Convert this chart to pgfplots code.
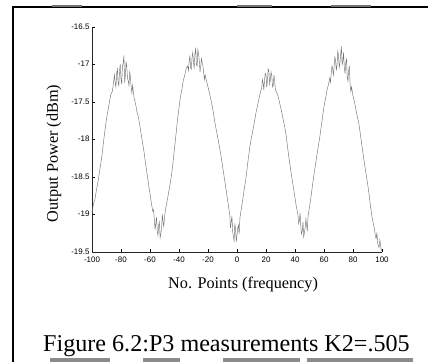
\documentclass[border=0pt]{standalone}
\usepackage{fontspec}
\setmainfont{Liberation Serif}
\newfontfamily\helv{Liberation Sans}
\usepackage{pgfplots}
\pgfplotsset{compat=1.18}
\usepackage{pgfplotstable}

% Measured output power against sweep point index
\pgfplotstableread{
x y
-100 -18.98
-99 -18.86
-98 -18.80
-97 -18.68
-96 -18.58
-95 -18.45
-94 -18.33
-93 -18.19
-92 -18.02
-91 -17.87
-90 -17.72
-89 -17.62
-88 -17.50
-87 -17.40
-86 -17.36
-85 -17.22
-84.5 -17.14
-84 -17.25
-83.5 -17.30
-83 -17.12
-82.5 -17.05
-82 -17.24
-81.5 -17.28
-81 -17.08
-80.5 -17.00
-80 -17.20
-79.5 -17.26
-79 -17.02
-78.5 -16.98
-78 -16.88
-77.5 -17.24
-77 -17.15
-76.5 -16.96
-76 -17.04
-75.5 -17.18
-75 -17.22
-74.5 -17.28
-74 -17.10
-73.5 -17.16
-73 -17.30
-72.5 -17.38
-72 -17.28
-71 -17.44
-70 -17.52
-69 -17.63
-68 -17.70
-67 -17.82
-66 -17.94
-65 -18.06
-64 -18.18
-63 -18.33
-62 -18.46
-61 -18.60
-60 -18.72
-59 -18.86
-58 -18.96
-57.5 -18.94
-57 -19.07
-56.5 -19.20
-56 -19.12
-55.5 -19.04
-55 -19.22
-54.5 -19.28
-54 -19.14
-53.5 -19.10
-53 -19.31
-52.5 -19.26
-52 -19.18
-51.5 -19.00
-51 -19.10
-50.5 -19.16
-50 -19.04
-49.5 -18.96
-49 -18.90
-48 -18.80
-47 -18.69
-46 -18.58
-45 -18.45
-44 -18.28
-43 -18.10
-42 -17.92
-41 -17.73
-40 -17.58
-39 -17.43
-38 -17.33
-37 -17.21
-36 -17.14
-35 -17.05
-34 -17.02
-33.5 -17.08
-33 -16.96
-32.5 -16.88
-32 -17.04
-31.5 -17.06
-31 -16.90
-30.5 -16.84
-30 -16.98
-29.5 -17.04
-29 -16.86
-28.5 -16.78
-28 -17.00
-27.5 -17.02
-27 -16.80
-26.5 -16.86
-26 -16.96
-25.5 -17.10
-25 -17.02
-24.5 -16.92
-24 -16.98
-23.5 -17.02
-23 -17.10
-22.5 -17.20
-22 -17.14
-21 -17.22
-20 -17.30
-19 -17.38
-18 -17.47
-17 -17.56
-16 -17.68
-15 -17.80
-14 -17.90
-13 -18.00
-12 -18.11
-11 -18.22
-10 -18.35
-9 -18.48
-8 -18.61
-7 -18.74
-6 -18.87
-5 -19.00
-4.5 -19.18
-4 -19.10
-3.5 -19.02
-3 -19.22
-2.5 -19.30
-2 -19.35
-1.5 -19.12
-1 -19.20
-0.5 -19.36
0 -19.28
0.5 -19.18
1 -19.14
1.5 -19.26
2 -19.05
3 -18.92
4 -18.80
5 -18.66
6 -18.54
7 -18.38
8 -18.22
9 -18.08
10 -17.97
11 -17.87
12 -17.77
13 -17.65
14 -17.56
15 -17.47
16 -17.38
17 -17.32
17.5 -17.20
18 -17.24
18.5 -17.34
19 -17.20
19.5 -17.12
20 -17.14
20.5 -17.30
21 -17.22
21.5 -17.06
22 -17.08
22.5 -17.26
23 -17.20
23.5 -17.10
24 -17.15
24.5 -17.30
25 -17.28
25.5 -17.14
26 -17.22
26.5 -17.34
27 -17.36
28 -17.40
29 -17.48
30 -17.56
31 -17.65
32 -17.75
33 -17.84
34 -17.96
35 -18.12
36 -18.27
37 -18.40
38 -18.53
39 -18.65
40 -18.78
41 -18.90
42 -19.00
42.5 -19.12
43 -19.08
43.5 -18.98
44 -19.16
44.5 -19.26
45 -19.22
45.5 -19.10
46 -19.30
46.5 -19.24
47 -19.18
47.5 -19.06
48 -19.14
48.5 -19.22
49 -19.02
50 -18.90
51 -18.77
52 -18.62
53 -18.48
54 -18.35
55 -18.22
56 -18.10
57 -17.98
58 -17.84
59 -17.70
60 -17.56
61 -17.46
62 -17.35
63 -17.27
64 -17.18
64.5 -17.24
65 -17.11
65.5 -17.02
66 -17.06
66.5 -17.14
67 -17.02
67.5 -16.90
68 -16.95
68.5 -17.08
69 -17.00
69.5 -16.82
70 -16.88
70.5 -17.04
71 -16.98
71.5 -16.86
72 -16.76
72.5 -17.00
73 -16.96
73.5 -16.84
74 -17.04
74.5 -17.12
75 -16.98
75.5 -16.92
76 -17.16
76.5 -17.22
77 -17.08
77.5 -17.02
78 -17.28
78.5 -17.36
79 -17.30
80 -17.42
81 -17.50
82 -17.60
83 -17.70
84 -17.78
85 -17.92
86 -18.06
87 -18.20
88 -18.33
89 -18.46
90 -18.58
91 -18.72
92 -18.88
93 -19.02
94 -19.12
95 -19.22
95.5 -19.30
96 -19.32
96.5 -19.24
97 -19.38
97.5 -19.42
98 -19.44
98.5 -19.34
99 -19.40
99.5 -19.48
100 -19.47
}\powerdata

\begin{document}
\begin{tikzpicture}
\path[use as bounding box] (0bp,0bp) rectangle (428bp,-362bp);

% page frame
\draw[line width=2bp] (12.8bp,-7bp) -- (428bp,-7bp);
\draw[line width=2.4bp] (12.8bp,-6bp) -- (12.8bp,-362bp);
% remnants of neighbouring lines
\foreach \a/\b in {52/82,237/272,331/371}
  \fill[black!55] (\a bp,-4.5bp) rectangle (\b bp,-6.5bp);
\foreach \a/\b in {50/110,143/180,223/300,307/413}
  \fill[black!45] (\a bp,-357.5bp) rectangle (\b bp,-362bp);

\begin{axis}[
  at={(92bp,-252bp)}, anchor=south west,
  scale only axis, width=290bp, height=225bp,
  xmin=-100, xmax=100, ymin=-19.5, ymax=-16.5,
  axis x line*=bottom, axis y line*=left,
  axis line style={line width=0.8bp, black!85},
  xtick={-100,-80,-60,-40,-20,0,20,40,60,80,100},
  xticklabels={-100,-80,-60,-40,-20,0,20,40,60,80,100},
  ytick={-19.5,-19,-18.5,-18,-17.5,-17,-16.5},
  yticklabels={-19.5,-19,-18.5,-18,-17.5,-17,-16.5},
  tick label style={font=\helv\fontsize{8}{9}\selectfont},
  xticklabel style={yshift=-1.5bp},
  yticklabel style={xshift=1bp, yshift=0.5bp},
  major tick length=3bp,
  tick style={line width=0.6bp, black},
  tick align=inside,
  xlabel={No. Points (frequency)},
  ylabel={Output Power (dBm)},
  label style={font=\fontsize{16.3}{18}\selectfont},
  xlabel style={at={(axis description cs:0.521,-0.164)}, anchor=base},
  ylabel style={at={(axis description cs:-0.131,0.438)}, anchor=center},
  clip=false,
]
\addplot[black!55, line width=0.45bp] table[x=x, y=y] {\powerdata};
\end{axis}

\node[anchor=base west, inner sep=0pt, font=\fontsize{24.2}{26}\selectfont] at (43bp,-351bp) {Figure 6.2:P3 measurements K2=.505};
\end{tikzpicture}
\end{document}
